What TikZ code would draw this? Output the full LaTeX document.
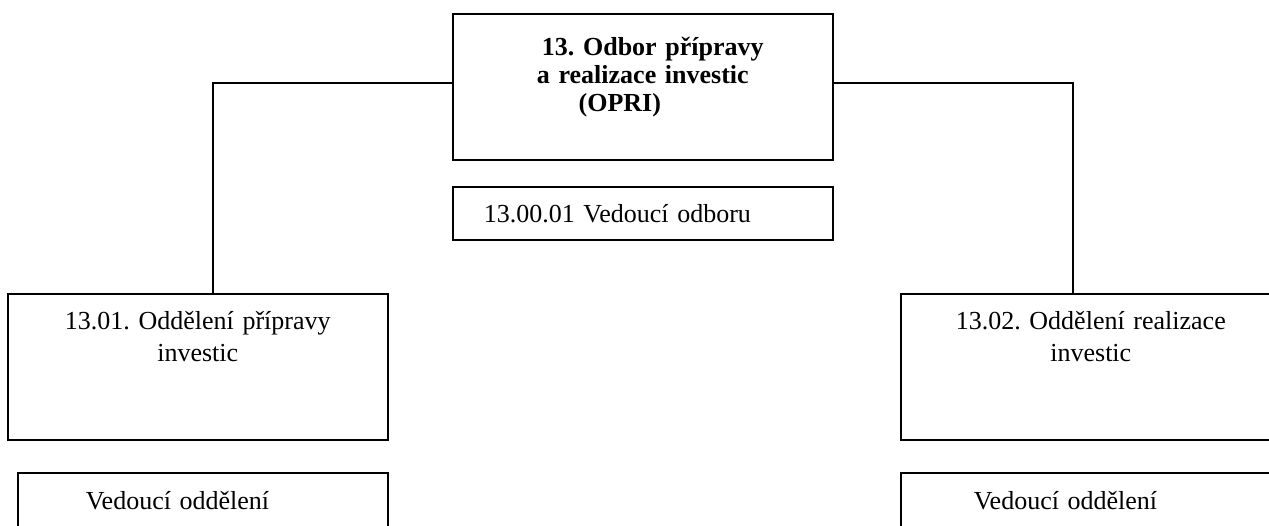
\documentclass[tikz,border=0pt]{standalone}
\usepackage{fontspec}
\setmainfont{Liberation Serif}
\usetikzlibrary{positioning}
\frenchspacing

\begin{document}
\begin{tikzpicture}[x=0.5pt,y=-0.5pt,
    box/.style={draw, line width=0.8pt, anchor=north west, inner sep=0pt,
      text width=190pt, align=center, font=\fontsize{13}{16}\selectfont},
    head/.style={box, font=\bfseries\fontsize{13}{14}\selectfont,
      text height=20.75pt, text depth=52.25pt},
    dept/.style={box, text height=17.75pt, text depth=55.25pt},
    chief/.style={box, align=left, text height=18.25pt, text depth=21.75pt},
    link/.style={draw, line width=0.8pt}]
  \useasboundingbox (0,0) rectangle (1269,525);

  % odbor
  \node[head]  (opri)  at (452,13)  {\hspace*{10pt}13. Odbor přípravy\\
    a realizace investic\\ (OPRI)\hspace*{23pt}\null};
  \node[chief, inner xsep=15.5pt, text width=159pt, text height=17.75pt,
    text depth=8.75pt]  (vodb)  at (452,186)  {13.00.01 Vedoucí odboru};

  % oddeleni
  \node[dept]  (left)   at (7,293)    {13.01. Oddělení přípravy\\ investic};
  \node[dept]  (right)  at (900,293)  {13.02. Oddělení realizace\\ investic};
  \node[chief, inner xsep=34pt, text width=117pt]    (vleft)   at (17,472)
    {Vedoucí oddělení};
  \node[chief, inner xsep=36.5pt, text width=112pt]  (vright)  at (900,472)
    {Vedoucí oddělení};

  \path[link] ([yshift=2pt]opri.west) -| ([xshift=7.5pt]left.north)
    ([yshift=2pt]opri.east) -| ([xshift=-9pt]right.north);
\end{tikzpicture}
\end{document}
